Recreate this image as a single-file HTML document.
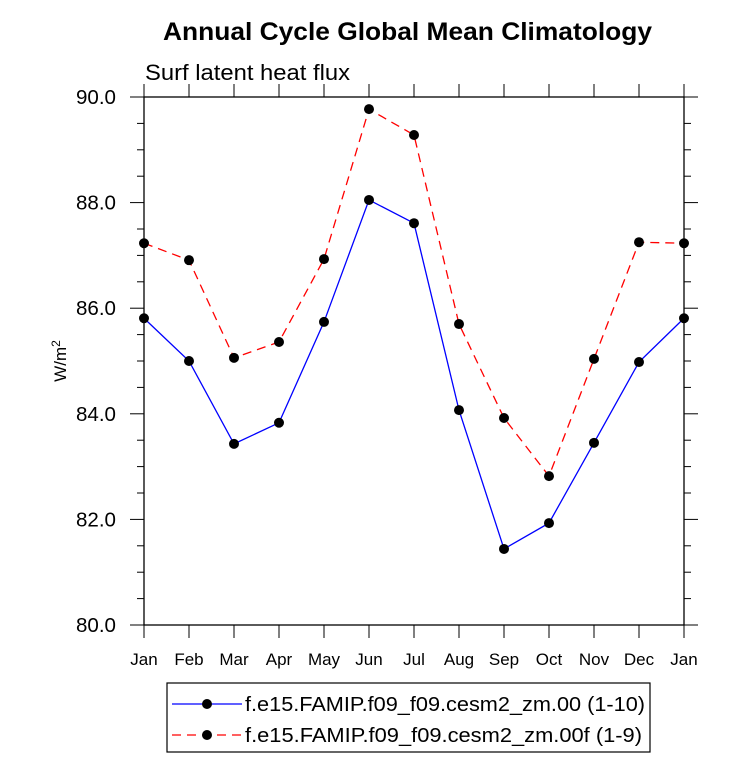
<!DOCTYPE html>
<html><head><meta charset="utf-8"><style>
body{margin:0;background:#fff;font-family:"Liberation Sans",sans-serif}
</style></head><body>
<svg id="chart" width="733" height="761" xmlns="http://www.w3.org/2000/svg" font-family="Liberation Sans, sans-serif">
<text x="163" y="40" font-size="25" font-weight="bold" textLength="489" lengthAdjust="spacingAndGlyphs">Annual Cycle Global Mean Climatology</text>
<text x="145" y="80" font-size="22" textLength="205" lengthAdjust="spacingAndGlyphs">Surf latent heat flux</text>
<text transform="translate(66,361) rotate(-90)" text-anchor="middle" font-size="17">W/m<tspan dy="-6" font-size="12">2</tspan></text>
<g id="axes"></g>
<g id="series"></g>
<g>
<rect x="167" y="683" width="483" height="69" fill="#fff" stroke="#000" stroke-width="1.2"/>
<line x1="172" y1="704" x2="242" y2="704" stroke="#00f" stroke-width="1.3"/>
<circle cx="207" cy="704" r="5" fill="#000"/>
<text x="245" y="711" font-size="20" textLength="400" lengthAdjust="spacingAndGlyphs">f.e15.FAMIP.f09_f09.cesm2_zm.00 (1-10)</text>
<line x1="172" y1="735" x2="242" y2="735" stroke="#f00" stroke-width="1.3" stroke-dasharray="9,6"/>
<circle cx="207" cy="735" r="5" fill="#000"/>
<text x="245" y="742" font-size="20" textLength="397" lengthAdjust="spacingAndGlyphs">f.e15.FAMIP.f09_f09.cesm2_zm.00f (1-9)</text>
</g>
</svg>
<script>
const months=["Jan","Feb","Mar","Apr","May","Jun","Jul","Aug","Sep","Oct","Nov","Dec","Jan"];
const seriesZm00=[85.81,85.00,83.43,83.83,85.74,88.05,87.61,84.07,81.44,81.93,83.45,84.98,85.81];
const seriesZm00f=[87.23,86.91,85.06,85.36,86.93,89.77,89.28,85.70,83.92,82.82,85.04,87.25,87.23];
const yTicks=[80,82,84,86,88,90];
const X0=144,X1=684,Y0=625,Y1=97,YMIN=80,YMAX=90;
const xs=i=>X0+(X1-X0)*i/(months.length-1);
const ys=v=>Y0-(Y0-Y1)*(v-YMIN)/(YMAX-YMIN);
const NS="http://www.w3.org/2000/svg";
function mk(tag,attrs,parent){const e=document.createElementNS(NS,tag);for(const k in attrs)e.setAttribute(k,attrs[k]);parent.appendChild(e);return e;}
const ax=document.getElementById('axes');
const frame=mk('rect',{x:X0,y:Y1,width:X1-X0,height:Y0-Y1,fill:'none',stroke:'#000','stroke-width':1.3},ax);


for(let v=YMIN;v<=YMAX+0.001;v+=0.5){
  const y=ys(v);const major=Math.abs(v-Math.round(v/2)*2)<0.01;const L=major?14:7;
  mk('line',{x1:X0,y1:y,x2:X0-L,y2:y,stroke:'#000','stroke-width':1},ax);
  mk('line',{x1:X1,y1:y,x2:X1+L,y2:y,stroke:'#000','stroke-width':1},ax);
}
yTicks.forEach(v=>{
  const t=mk('text',{x:X0-28,y:ys(v)+7,'text-anchor':'end','font-size':20,textLength:40,lengthAdjust:'spacingAndGlyphs'},ax);
  
  
  t.textContent=v.toFixed(1);
});
months.forEach((m,i)=>{
  const x=xs(i);
  mk('line',{x1:x,y1:Y0,x2:x,y2:Y0+13,stroke:'#000','stroke-width':1},ax);
  mk('line',{x1:x,y1:Y1,x2:x,y2:Y1-13,stroke:'#000','stroke-width':1},ax);
  const t=mk('text',{x:x,y:Y0+40,'text-anchor':'middle','font-size':17},ax);
  
  
  t.textContent=m;
});
const sg=document.getElementById('series');
function draw(vals,color,dash,name){
  const p=mk('polyline',{points:vals.map((v,i)=>xs(i)+','+ys(v)).join(' '),fill:'none',stroke:color,'stroke-width':1.3,'stroke-dasharray':dash},sg);
  
  
  vals.forEach((v,i)=>{
    const c=mk('circle',{cx:xs(i),cy:ys(v),r:5,fill:'#000'},sg);
    
    
  });
}
draw(seriesZm00f,'#f00','9,6','zm00f');
draw(seriesZm00,'#00f','none','zm00');
</script>
</body></html>
